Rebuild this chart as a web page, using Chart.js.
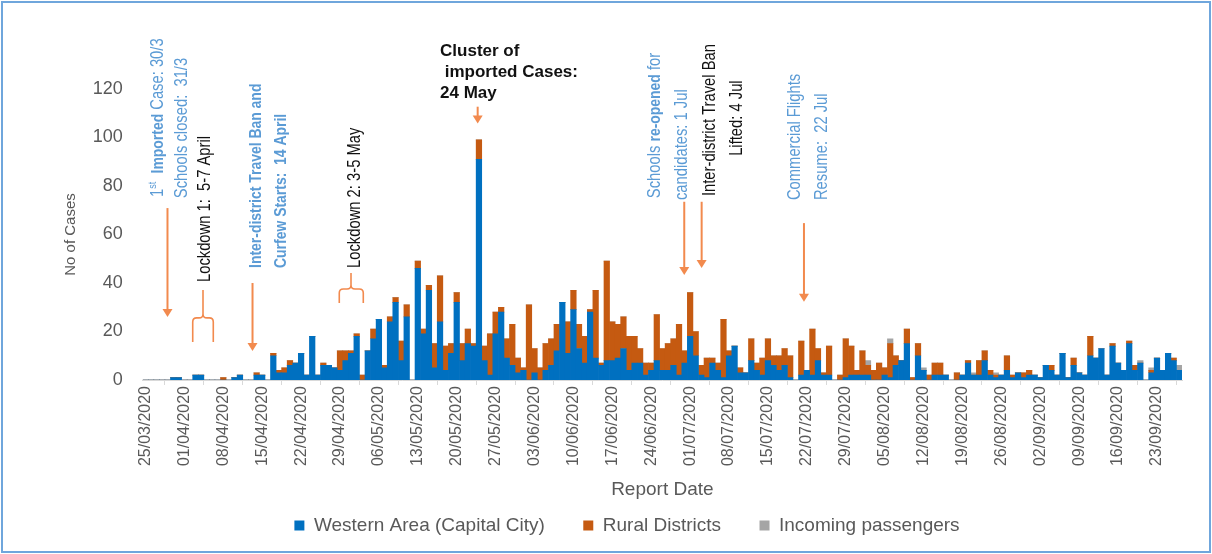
<!DOCTYPE html>
<html>
<head>
<meta charset="utf-8">
<script src="https://cdn.jsdelivr.net/npm/chart.js@4.4.0/dist/chart.umd.min.js"></script>
<style>
  body { margin: 0; background: #fff; }
  #wrap { position: relative; width: 1212px; height: 554px; }
  #frame { position: absolute; left: 1px; top: 1px; width: 1206px; height: 548px; border: 2px solid #6fa6dc; pointer-events: none; }
</style>
</head>
<body>
<div id="wrap">
  <canvas id="cases-chart" width="1212" height="554"></canvas>
  <div id="frame"></div>
</div>
<script>
// daily report dates, 25/03/2020 .. 27/09/2020
const firstDay = new Date(2020, 2, 25);
const dayCount = 187;
const reportDates = [];
for (let i = 0; i < dayCount; i++) {
  const d = new Date(firstDay.getFullYear(), firstDay.getMonth(), firstDay.getDate() + i);
  reportDates.push(String(d.getDate()).padStart(2, '0') + '/' + String(d.getMonth() + 1).padStart(2, '0') + '/' + d.getFullYear());
}

const westernArea = [
  0, 0, 0, 0, 0, 1, 1, 0, 0, 2, 2, 0, 0, 0, 0, 0, 1, 2, 0, 0,
  2, 2, 0, 10, 3, 3, 6, 7, 11, 2, 18, 2, 6, 6, 5, 4, 8, 11, 18, 0,
  12, 17, 25, 5, 24, 32, 8, 26, 0, 46, 19, 37, 5, 24, 4, 11, 32, 8, 15, 14,
  91, 8, 2, 19, 28, 9, 6, 3, 4, 0, 3, 0, 4, 6, 12, 32, 11, 29, 13, 7,
  28, 9, 6, 8, 8, 9, 13, 4, 7, 7, 2, 4, 8, 4, 4, 6, 2, 7, 18, 10,
  2, 1, 7, 4, 1, 10, 14, 3, 3, 8, 4, 2, 8, 6, 4, 6, 1, 0, 2, 4,
  2, 8, 2, 2, 0, 0, 1, 2, 2, 2, 2, 0, 0, 2, 1, 6, 8, 15, 0, 10,
  4, 0, 2, 2, 2, 0, 0, 2, 7, 2, 2, 8, 2, 1, 2, 4, 1, 3, 1, 2,
  2, 1, 6, 4, 2, 11, 1, 6, 3, 2, 10, 9, 13, 2, 14, 7, 4, 15, 4, 7,
  0, 3, 9, 4, 11, 8, 4
];
const ruralDistricts = [
  0, 0, 0, 0, 0, 0, 0, 0, 0, 0, 0, 0, 0, 0, 1, 0, 0, 0, 0, 0,
  1, 0, 0, 1, 1, 2, 2, 0, 0, 0, 0, 0, 1, 0, 0, 8, 4, 1, 1, 2,
  0, 4, 0, 1, 2, 2, 8, 5, 0, 3, 2, 2, 10, 19, 10, 4, 4, 7, 6, 1,
  8, 6, 17, 9, 2, 8, 17, 6, 1, 31, 10, 5, 11, 11, 11, 0, 13, 8, 10, 11,
  1, 28, 1, 41, 16, 14, 13, 14, 11, 6, 5, 3, 19, 9, 11, 11, 21, 5, 18, 10,
  4, 8, 2, 3, 24, 2, 0, 2, 0, 9, 3, 7, 9, 4, 6, 7, 9, 0, 14, 0,
  19, 5, 1, 12, 0, 2, 16, 12, 2, 10, 4, 4, 7, 3, 14, 4, 0, 6, 1, 5,
  0, 2, 5, 5, 0, 0, 3, 0, 1, 0, 6, 4, 2, 1, 0, 6, 1, 0, 2, 2,
  0, 0, 0, 2, 0, 0, 0, 3, 0, 0, 8, 0, 0, 0, 1, 0, 0, 1, 2, 0,
  0, 1, 0, 0, 0, 1, 0
];
const incomingPassengers = [
  0, 0, 0, 0, 0, 0, 0, 0, 0, 0, 0, 0, 0, 0, 0, 0, 0, 0, 0, 0,
  0, 0, 0, 0, 0, 0, 0, 0, 0, 0, 0, 0, 0, 0, 0, 0, 0, 0, 0, 0,
  0, 0, 0, 0, 0, 0, 0, 0, 0, 0, 0, 0, 0, 0, 0, 0, 0, 0, 0, 0,
  0, 0, 0, 0, 0, 0, 0, 0, 0, 0, 0, 0, 0, 0, 0, 0, 0, 0, 0, 0,
  0, 0, 0, 0, 0, 0, 0, 0, 0, 0, 0, 0, 0, 0, 0, 0, 0, 0, 0, 0,
  0, 0, 0, 0, 0, 0, 0, 0, 0, 0, 0, 0, 0, 0, 0, 0, 0, 0, 0, 0,
  0, 0, 0, 0, 0, 0, 0, 0, 0, 0, 2, 0, 0, 0, 2, 0, 0, 0, 0, 0,
  1, 0, 0, 0, 0, 0, 0, 0, 0, 1, 0, 0, 0, 1, 0, 0, 0, 0, 0, 0,
  0, 0, 0, 0, 0, 0, 0, 0, 0, 0, 0, 0, 0, 0, 0, 0, 0, 0, 0, 1,
  0, 1, 0, 0, 0, 0, 2
];
const yTicks = [0, 20, 40, 60, 80, 100, 120];

const FONT = "'Liberation Sans', Arial, sans-serif";
const BLUE_TXT = '#5b9bd5';
const BLACK_TXT = '#111111';
const ARROW = '#f28a4e';

// event notes: idx = category position, val = y value where the text starts
const notes = [
  { idx: 2.25, val: 75.5, color: BLUE_TXT, parts: [{ t: '1' }, { t: 'st', sup: true }, { t: '  ' }, { t: 'Imported', b: true }, { t: ' Case: 30/3' }] },
  { idx: 6.5, val: 75, color: BLUE_TXT, parts: [{ t: 'Schools closed:  31/3' }] },
  { idx: 10.7, val: 40.4, color: BLACK_TXT, parts: [{ t: 'Lockdown 1:  5-7 April' }] },
  { idx: 19.9, val: 46.2, color: BLUE_TXT, parts: [{ t: 'Inter-district Travel Ban and', b: true }] },
  { idx: 24.4, val: 46.2, color: BLUE_TXT, parts: [{ t: 'Curfew Starts:  14 April', b: true }] },
  { idx: 37.7, val: 46.2, color: BLACK_TXT, parts: [{ t: 'Lockdown 2: 3-5 May' }] },
  { idx: 91.7, val: 75, color: BLUE_TXT, parts: [{ t: 'Schools ' }, { t: 're-opened', b: true }, { t: ' for' }] },
  { idx: 96.5, val: 74.2, color: BLUE_TXT, parts: [{ t: 'candidates: 1 Jul' }] },
  { idx: 101.6, val: 107.2, color: BLACK_TXT, center: true, parts: [{ t: 'Inter-district Travel Ban' }] },
  { idx: 106.5, val: 108, color: BLACK_TXT, center: true, parts: [{ t: 'Lifted: 4 Jul' }] },
  { idx: 116.85, val: 74.2, color: BLUE_TXT, parts: [{ t: 'Commercial Flights' }] },
  { idx: 121.7, val: 74.2, color: BLUE_TXT, parts: [{ t: 'Resume:  22 Jul' }] }
];
const clusterNote = { idx: 53, vals: [135.4, 126.7, 118.2], lines: ['Cluster of', ' imported Cases:', '24 May'] };
const arrows = [
  { idx: 3.96, from: 70.9, to: 26 },
  { idx: 19.26, from: 40, to: 12 },
  { idx: 59.77, from: 112.7, to: 105.8 },
  { idx: 96.94, from: 73.5, to: 43.3 },
  { idx: 100.07, from: 73.5, to: 46.2 },
  { idx: 118.48, from: 64.7, to: 32.3 }
];
const braces = [
  { left: 8.5, mid: 10.35, right: 12.2, tip: 37.1, shoulder: 25.6, foot: 15.7 },
  { left: 34.87, mid: 36.98, right: 39.19, tip: 44.1, shoulder: 37.5, foot: 31.8 }
];

const eventNotes = {
  id: 'eventNotes',
  afterDraw(chart) {
    const { ctx, scales: { x, y } } = chart;
    const px = (i) => x.getPixelForValue(i);
    const py = (v) => y.getPixelForValue(v);
    ctx.save();

    // rotated notes
    notes.forEach((n) => {
      ctx.save();
      ctx.translate(px(n.idx), py(n.val));
      ctx.rotate(-Math.PI / 2);
      ctx.scale(0.82, 1);
      ctx.fillStyle = n.color;
      ctx.textBaseline = 'middle';
      ctx.textAlign = 'left';
      const fontOf = (p) => (p.b ? 'bold ' : '') + (p.sup ? '11px ' : (p.b ? '17px ' : '18px ')) + FONT;
      let total = 0;
      n.parts.forEach((p) => { ctx.font = fontOf(p); total += ctx.measureText(p.t).width; });
      let cx = n.center ? -total / 2 : 0;
      n.parts.forEach((p) => {
        ctx.font = fontOf(p);
        ctx.fillText(p.t, cx, p.sup ? -5 : 0);
        cx += ctx.measureText(p.t).width;
      });
      ctx.restore();
    });

    // cluster note
    ctx.fillStyle = BLACK_TXT;
    ctx.font = 'bold 17px ' + FONT;
    ctx.textBaseline = 'middle';
    ctx.textAlign = 'left';
    clusterNote.lines.forEach((l, i) => ctx.fillText(l, px(clusterNote.idx), py(clusterNote.vals[i])));

    // arrows
    ctx.strokeStyle = ARROW;
    ctx.fillStyle = ARROW;
    ctx.lineWidth = 2;
    arrows.forEach((a) => {
      const ax = px(a.idx), y0 = py(a.from), y1 = py(a.to);
      ctx.beginPath();
      ctx.moveTo(ax, y0);
      ctx.lineTo(ax, y1 - 6);
      ctx.stroke();
      ctx.beginPath();
      ctx.moveTo(ax - 5, y1 - 8);
      ctx.lineTo(ax + 5, y1 - 8);
      ctx.lineTo(ax, y1);
      ctx.closePath();
      ctx.fill();
    });

    // braces
    ctx.lineWidth = 1.6;
    braces.forEach((b) => {
      const l = px(b.left), m = px(b.mid), r = px(b.right);
      const t = py(b.tip), s = py(b.shoulder), f = py(b.foot);
      const k = 4;
      ctx.beginPath();
      ctx.moveTo(l, f);
      ctx.lineTo(l, s + k);
      ctx.quadraticCurveTo(l, s, l + k, s);
      ctx.lineTo(m - k, s);
      ctx.quadraticCurveTo(m, s, m, s - k);
      ctx.lineTo(m, t);
      ctx.moveTo(m, s - k);
      ctx.quadraticCurveTo(m, s, m + k, s);
      ctx.lineTo(r - k, s);
      ctx.quadraticCurveTo(r, s, r, s + k);
      ctx.lineTo(r, f);
      ctx.stroke();
    });
    ctx.restore();
  }
};

Chart.defaults.font.family = FONT;
Chart.defaults.color = '#595959';

const casesChart = document.getElementById('cases-chart');
new Chart(casesChart, {
  type: 'bar',
  data: {
    labels: reportDates,
    datasets: [{
      label: 'Western Area (Capital City)',
      data: westernArea,
      backgroundColor: '#0070c0',
    }, {
      label: 'Rural Districts',
      data: ruralDistricts,
      backgroundColor: '#c55a11',
    }, {
      label: 'Incoming passengers',
      data: incomingPassengers,
      backgroundColor: '#a5a5a5',
    }],
  },
  options: {
    responsive: false,
    animation: false,
    layout: { padding: { top: 89, left: 58, right: 16, bottom: 9 } },
    datasets: { bar: { barPercentage: 1, categoryPercentage: 1, borderWidth: 0 } },
    scales: {
      x: {
        stacked: true,
        grid: { drawOnChartArea: false, tickLength: 5, color: '#d9d9d9' },
        border: { color: '#d9d9d9' },
        ticks: {
          autoSkip: false,
          minRotation: 90,
          maxRotation: 90,
          padding: 1,
          font: { size: 16 },
          color: '#595959',
          callback: (v, i) => (i % 7 === 0 ? reportDates[i] : null),
        },
        title: { display: true, text: 'Report Date', font: { size: 19 }, color: '#595959', padding: { top: 0, bottom: 5 } },
        afterFit: (s) => { s.height = 126; },
      },
      y: {
        stacked: true,
        min: 0,
        max: 120,
        afterBuildTicks: (s) => { s.ticks = yTicks.map((v) => ({ value: v })); },
        grid: { display: false, drawTicks: false },
        border: { display: false },
        ticks: { padding: 20, font: { size: 18 }, color: '#595959' },
        title: { display: true, text: 'No of Cases', font: { size: 15 }, color: '#595959', padding: { top: 4, bottom: 0 } },
        afterFit: (s) => { s.width = 84.7; },
      },
      y2: {
        position: 'right',
        grid: { display: false, drawTicks: false },
        border: { display: false },
        ticks: { display: false },
        afterFit: (s) => { s.width = 14; },
      },
    },
    plugins: {
      tooltip: { enabled: false },
      legend: {
        position: 'bottom',
        labels: {
          boxWidth: 10,
          boxHeight: 10,
          padding: 10,
          font: { size: 19 },
          color: '#595959',
          generateLabels: (c) => Chart.defaults.plugins.legend.labels.generateLabels(c).map((item, i) => {
            if (i < 2) item.text += '\u2003\u2002';
            return item;
          }),
        },
      },
    },
  },
  plugins: [eventNotes],
});
</script>
</body>
</html>
